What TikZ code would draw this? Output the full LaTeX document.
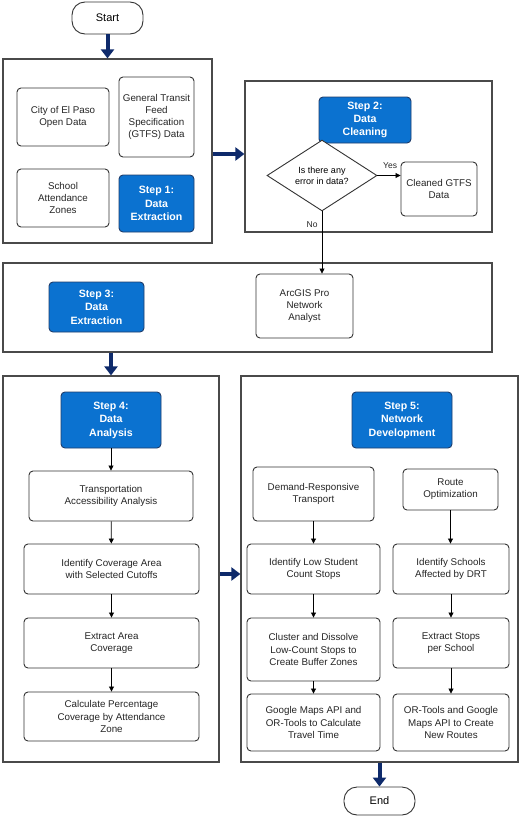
\documentclass[tikz,border=0pt]{standalone}
\usepackage{fontspec}
\setmainfont{Liberation Sans}
\usetikzlibrary{arrows.meta,shapes.geometric,calc}
\definecolor{stepblue}{HTML}{0B72D0}
\definecolor{stepedge}{HTML}{1F3D6B}
\definecolor{navy}{HTML}{0E2A6B}
\definecolor{outeredge}{HTML}{4A4A4A}
\definecolor{boxedge}{HTML}{333333}
\tikzset{
  outerbox/.style={draw=outeredge, line width=1.2pt, inner sep=0pt},
  procbox/.style={draw=boxedge, line width=0.9pt, rounded corners=4pt, fill=white, align=center, inner sep=0pt, font=\fontsize{9.8}{12.2}\selectfont, text=black!85},
  stepbox/.style={draw=stepedge, line width=0.9pt, rounded corners=4pt, fill=stepblue, align=center, inner sep=0pt, font=\fontsize{10.6}{13.4}\selectfont\bfseries, text=white},
  termbox/.style={draw=boxedge, line width=0.9pt, rounded corners=13pt, fill=white, align=center, inner sep=0pt, font=\fontsize{11}{13}\selectfont},
  decbox/.style={draw=boxedge, line width=0.9pt, diamond, fill=white, align=center, inner sep=0pt, font=\fontsize{9}{10.7}\selectfont},
  bigarrow/.style={draw=navy, line width=4pt, -{Triangle[length=9pt,width=13pt]}},
  thinarrow/.style={draw=black, line width=0.8pt, -{Triangle[length=5pt,width=5pt]}},
  lbl/.style={font=\fontsize{8.5}{10}\selectfont, text=black!85, inner sep=1pt}
}
\begin{document}
\begin{tikzpicture}[x=1pt,y=-1pt]
\useasboundingbox (0,0) rectangle (520,817);
\fill[white] (0,0) rectangle (520,817);

% outer containers
\node[outerbox, minimum width=209, minimum height=184] (box1) at (107.5,151) {};
\node[outerbox, minimum width=247, minimum height=151] (box2) at (368.5,156.5) {};
\node[outerbox, minimum width=489, minimum height=89] (box3) at (247.5,307.5) {};
\node[outerbox, minimum width=216, minimum height=386] (box4) at (111,569) {};
\node[outerbox, minimum width=277, minimum height=386] (box5) at (379.5,569) {};

% terminals
\node[termbox, minimum width=71, minimum height=32] (start) at (107.5,18) {Start};
\node[termbox, minimum width=71, minimum height=28] (end) at (379.5,801) {End};

% step 1
\node[procbox, minimum width=92, minimum height=58] (city) at (63,117) {City of El Paso\\Open Data};
\node[procbox, minimum width=75, minimum height=80] (gtfs) at (156.5,117) {General Transit\\Feed\\Specification\\(GTFS) Data};
\node[procbox, minimum width=92, minimum height=58] (school) at (63,198) {School\\Attendance\\Zones};
\node[stepbox, minimum width=75, minimum height=57] (step1) at (156.5,203.5) {Step 1:\\Data\\Extraction};

% step 2
\node[stepbox, minimum width=92, minimum height=46] (step2) at (365,120) {Step 2:\\Data\\Cleaning};
\node[decbox, minimum width=110, minimum height=53] (dia) at (322,175.5) {Is there any\\error in data?};
\node[procbox, minimum width=76, minimum height=54] (clean) at (439,189) {Cleaned GTFS\\Data};

% step 3
\node[stepbox, minimum width=95, minimum height=50] (step3) at (96.5,307) {Step 3:\\Data\\Extraction};
\node[procbox, minimum width=97, minimum height=64] (arc) at (304.5,306) {ArcGIS Pro\\Network\\Analyst};

% step 4
\node[stepbox, minimum width=100, minimum height=56] (step4) at (111,420) {Step 4:\\Data\\Analysis};
\node[procbox, minimum width=164, minimum height=50] (trans) at (111,496) {Transportation\\Accessibility Analysis};
\node[procbox, minimum width=175, minimum height=50] (ident) at (111.5,569) {Identify Coverage Area\\with Selected Cutoffs};
\node[procbox, minimum width=175, minimum height=50] (extract) at (111.5,643) {Extract Area\\Coverage};
\node[procbox, minimum width=175, minimum height=49] (calc) at (111.5,716.5) {Calculate Percentage\\Coverage by Attendance\\Zone};

% step 5
\node[stepbox, minimum width=100, minimum height=56] (step5) at (402,420) {Step 5:\\Network\\Development};
\node[procbox, minimum width=121, minimum height=54] (drt) at (313.5,494) {Demand-Responsive\\Transport};
\node[procbox, minimum width=95, minimum height=41] (route) at (450.5,489.5) {Route\\Optimization};
\node[procbox, minimum width=133, minimum height=50] (low) at (313.5,569) {Identify Low Student\\Count Stops};
\node[procbox, minimum width=116, minimum height=50] (schools) at (451,569) {Identify Schools\\Affected by DRT};
\node[procbox, minimum width=133, minimum height=63] (cluster) at (313.5,649.5) {Cluster and Dissolve\\Low-Count Stops to\\Create Buffer Zones};
\node[procbox, minimum width=116, minimum height=50] (stops) at (451,643) {Extract Stops\\per School};
\node[procbox, minimum width=133, minimum height=57] (gmaps) at (313.5,722.5) {Google Maps API and\\OR-Tools to Calculate\\Travel Time};
\node[procbox, minimum width=116, minimum height=57] (ortools) at (451,722.5) {OR-Tools and Google\\Maps API to Create\\New Routes};

% anchor points for the horizontal connectors
\coordinate (a1) at ($(box1.east)+(0,3)$);
\coordinate (a2) at ($(box4.east)+(0,5)$);

% big arrows
\draw[bigarrow] (start.south) -- (box1.north);
\draw[bigarrow] (a1) -- (a1 -| box2.west);
\draw[bigarrow] (box4.north |- box3.south) -- (box4.north);
\draw[bigarrow] (a2) -- (a2 -| box5.west);
\draw[bigarrow] (box5.south) -- (end.north);

% thin arrows
\draw[thinarrow] (dia.east) -- (dia.east -| clean.west) node[lbl, pos=0.55, above=6pt] {Yes};
\draw[thinarrow] (dia.south) -- (dia.south |- arc.north) node[lbl, pos=0.22, left=3pt] {No};
\draw[thinarrow] (step4) -- (trans);
\draw[thinarrow] (trans) -- (ident);
\draw[thinarrow] (ident) -- (extract);
\draw[thinarrow] (extract) -- (calc);
\draw[thinarrow] (drt) -- (low);
\draw[thinarrow] (low) -- (cluster);
\draw[thinarrow] (cluster) -- (gmaps);
\draw[thinarrow] (route.south) -- (route.south |- schools.north);
\draw[thinarrow] (schools.south) -- (schools.south |- stops.north);
\draw[thinarrow] (stops.south) -- (stops.south |- ortools.north);
\end{tikzpicture}
\end{document}
